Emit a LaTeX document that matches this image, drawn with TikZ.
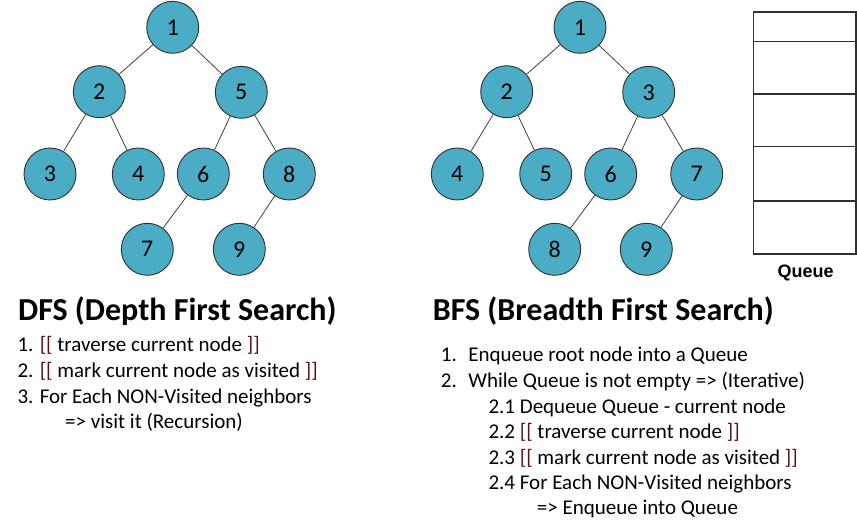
\documentclass[tikz,border=0pt]{standalone}
\usepackage{fontspec}
\setmainfont{Carlito}
\newfontfamily\arialfont{Liberation Sans}
\definecolor{nodefill}{HTML}{4BACC6}
\definecolor{nodeline}{HTML}{303030}
\definecolor{edgecol}{HTML}{404040}
\definecolor{brk}{RGB}{85,18,18}
\newcommand{\bk}[1]{\textcolor{brk}{#1}}
\begin{document}
\begin{tikzpicture}[x=1pt,y=-1pt,
  tnode/.style={circle,draw=nodeline,fill=nodefill,line width=0.9pt,minimum size=52pt,inner sep=0pt,font=\fontsize{24}{28}\selectfont},
  tedge/.style={draw=edgecol,line width=0.8pt},
  title/.style={anchor=base west,inner sep=0pt,font=\fontsize{32}{36}\selectfont\bfseries},
  txt/.style={anchor=base west,inner sep=0pt,font=\fontsize{21}{25}\selectfont},
  qbox/.style={draw=nodeline,line width=1.2pt}]
\useasboundingbox (0,0) rectangle (857,532);
% DFS tree
\node[tnode] (d1) at (172.7,27.3) {1};
\node[tnode] (d2) at (99.3,91.7) {2};
\node[tnode] (d5) at (241.3,92.3) {5};
\node[tnode] (d3) at (50,174) {3};
\node[tnode] (d4) at (138.3,174) {4};
\node[tnode] (d6) at (203.3,174) {6};
\node[tnode] (d8) at (289.3,174) {8};
\node[tnode] (d7) at (147.3,249.3) {7};
\node[tnode] (d9) at (239.3,249.3) {9};
\draw[tedge] (d1) -- (d2);
\draw[tedge] (d1) -- (d5);
\draw[tedge] (d2) -- (d3);
\draw[tedge] (d2) -- (d4);
\draw[tedge] (d5) -- (d6);
\draw[tedge] (d5) -- (d8);
\draw[tedge] (d6) -- (d7);
\draw[tedge] (d8) -- (d9);
% BFS tree
\node[tnode] (b1) at (580,27.3) {1};
\node[tnode] (b2) at (506.7,91.7) {2};
\node[tnode] (b3) at (648.7,92.3) {3};
\node[tnode] (b4) at (457.3,174) {4};
\node[tnode] (b5) at (545.7,174) {5};
\node[tnode] (b6) at (610.7,174) {6};
\node[tnode] (b7) at (696.7,174) {7};
\node[tnode] (b8) at (554.7,249.3) {8};
\node[tnode] (b9) at (646.3,249.3) {9};
\draw[tedge] (b1) -- (b2);
\draw[tedge] (b1) -- (b3);
\draw[tedge] (b2) -- (b4);
\draw[tedge] (b2) -- (b5);
\draw[tedge] (b3) -- (b6);
\draw[tedge] (b3) -- (b7);
\draw[tedge] (b6) -- (b8);
\draw[tedge] (b7) -- (b9);
% Queue
\draw[qbox] (753.3,12) rectangle (856,254);
\draw[qbox] (753.3,41.3) -- (856,41.3);
\draw[qbox] (753.3,94) -- (856,94);
\draw[qbox] (753.3,146.7) -- (856,146.7);
\draw[qbox] (753.3,201) -- (856,201);
\node[anchor=base,inner sep=0pt,font=\arialfont\fontsize{18}{21}\selectfont\bfseries] (ql) at (805.7,277) {Queue};
% DFS text
\node[title] (dt) at (18,320) {DFS (Depth First Search)};
\node[txt] (dl1) at (17.3,351.7) {1. \bk{[[} traverse current node \bk{]]}};
\node[txt] (dl2) at (17.3,377.7) {2. \bk{[[} mark current node as visited \bk{]]}};
\node[txt] (dl3) at (17.3,403.3) {3. For Each NON-Visited neighbors};
\node[txt] (dl4) at (65,428.3) {=> visit it (Recursion)};
% BFS text
\node[title] (bt) at (432.7,320) {BFS (Breadth First Search)};
\node[txt] (bl1) at (440.7,361.7) {1.\hspace{0.55em}Enqueue root node into a Queue};
\node[txt] (bl2) at (440.7,387.3) {2.\hspace{0.55em}While Queue is not empty => (Iterative)};
\node[txt] (bl3) at (488.3,413.3) {2.1 Dequeue Queue - current node};
\node[txt] (bl4) at (488.3,438.3) {2.2 \bk{[[} traverse current node \bk{]]}};
\node[txt] (bl5) at (488.3,464) {2.3 \bk{[[} mark current node as visited \bk{]]}};
\node[txt] (bl6) at (488.3,489.3) {2.4 For Each NON-Visited neighbors};
\node[txt] (bl7) at (536.7,514) {=> Enqueue into Queue};
\end{tikzpicture}
\end{document}
